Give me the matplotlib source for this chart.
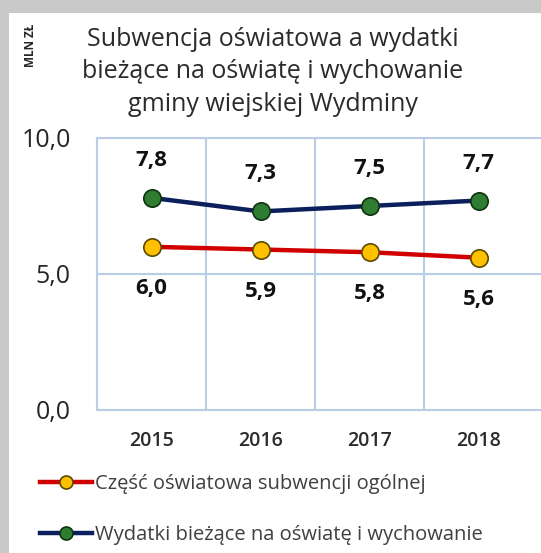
import numpy as np
import matplotlib
matplotlib.use('Agg')
import matplotlib.pyplot as plt
from matplotlib.patches import Rectangle

plt.rcParams['font.family'] = ['Open Sans', 'DejaVu Sans']

lata = ['2015', '2016', '2017', '2018']
subwencja = [6.0, 5.9, 5.8, 5.6]
wydatki = [7.8, 7.3, 7.5, 7.7]
etykiety_sub = ['6,0', '5,9', '5,8', '5,6']
etykiety_wyd = ['7,8', '7,3', '7,5', '7,7']
y_ticks = [0, 5, 10]
y_tick_labels = ['0,0', '5,0', '10,0']

tytul = 'Subwencja oświatowa a wydatki\nbieżące na oświatę i wychowanie\ngminy wiejskiej Wydminy'
nazwa_sub = 'Część oświatowa subwencji ogólnej'
nazwa_wyd = 'Wydatki bieżące na oświatę i wychowanie'

W, H = 541, 553
fig = plt.figure(figsize=(W / 100, H / 100), dpi=100)
fig.patch.set_facecolor('#c9c9c9')
# white panel (grey frame on top/left)
fig.patches.append(Rectangle((9 / W, 0), 1, 1 - 13 / H, transform=fig.transFigure,
                             facecolor='white', edgecolor='none', zorder=-5))

left, right, top, bottom = 97, 541, 138, 410
ax = fig.add_axes([left / W, 1 - bottom / H, (right - left) / W, (bottom - top) / H])
ax.set_facecolor('white')

x = np.arange(len(lata))
grid_c = '#b9cde5'
l1, = ax.plot(x, subwencja, color='#d00000', lw=3.2, marker='o', ms=12.5,
              mfc='#ffc000', mec='#5a4a00', mew=1.2, label=nazwa_sub, zorder=3)
l2, = ax.plot(x, wydatki, color='#0a1f5c', lw=3.2, marker='o', ms=12.5,
              mfc='#2e7d32', mec='#0f3310', mew=1.2, label=nazwa_wyd, zorder=3)

for xi, v, t in zip(x, wydatki, etykiety_wyd):
    ax.annotate(t, (xi, v), xytext=(0, 27), textcoords='offset points',
                ha='center', va='center', fontsize=16, fontweight='bold', color='#111111')
for xi, v, t in zip(x, subwencja, etykiety_sub):
    ax.annotate(t, (xi, v), xytext=(0, -30), textcoords='offset points',
                ha='center', va='center', fontsize=16, fontweight='bold', color='#111111')

ax.set_xlim(-0.5, -0.5 + (right - left) / 109)
ax.set_ylim(0, 10)
ax.set_xticks(x)
ax.set_xticklabels(lata, fontweight='semibold')
ax.set_xticks([0.5, 1.5, 2.5], minor=True)
ax.set_yticks(y_ticks)
ax.set_yticklabels(y_tick_labels)
ax.tick_params(axis='x', which='both', length=0, pad=15, labelsize=14, labelcolor='#2b2b2b')
ax.tick_params(axis='y', length=0, pad=19, labelsize=18, labelcolor='#262626')
ax.grid(axis='x', which='minor', color=grid_c, lw=1.5)
ax.grid(axis='y', which='major', color=grid_c, lw=1.5)
ax.set_axisbelow(True)
for s in ['left', 'top', 'bottom']:
    ax.spines[s].set_color(grid_c)
    ax.spines[s].set_linewidth(1.5)
ax.spines['right'].set_visible(False)

fig.text(273 / W, 1 - 72 / H, tytul, ha='center', va='center', fontsize=18,
         color='#2b2b2b', linespacing=1.4)
fig.text(30 / W, 1 - 45 / H, 'MLN ZŁ', rotation=90, ha='center', va='center',
         fontsize=8.5, fontweight='bold', color='#262626')

fig.legend(handles=[l1, l2], loc='upper left', bbox_to_anchor=(40 / W, 1 - 474 / H),
           frameon=False, fontsize=14.5, handlelength=2.6, handletextpad=0.15,
           markerscale=0.75, labelspacing=1.55, labelcolor='#404040',
           borderaxespad=0, borderpad=0)

fig.savefig('out.png', dpi=100)
